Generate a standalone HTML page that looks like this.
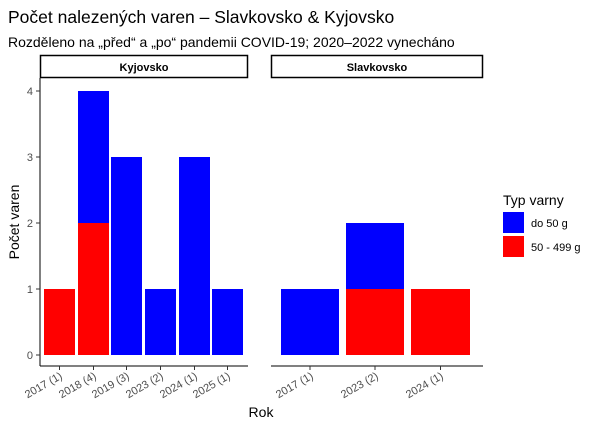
<!DOCTYPE html>
<html><head><meta charset="utf-8"><style>
body{margin:0;background:#fff;}
text{font-family:"Liberation Sans",Arial,sans-serif;}
</style></head><body>
<svg width="600" height="430" viewBox="0 0 600 430" xmlns="http://www.w3.org/2000/svg">
<rect width="600" height="430" fill="#fff"/>
<text x="8" y="23" font-size="17.5" fill="#000">Počet nalezených varen – Slavkovsko &amp; Kyjovsko</text>
<text x="8" y="47" font-size="14" fill="#000">Rozděleno na „před“ a „po“ pandemii COVID-19; 2020–2022 vynecháno</text>
<!-- strips -->
<rect x="40.5" y="55.5" width="207" height="22" fill="#fff" stroke="#000" stroke-width="1.5"/>
<text x="144" y="71" font-size="11" font-weight="bold" text-anchor="middle">Kyjovsko</text>
<rect x="271.5" y="55.5" width="211" height="22" fill="#fff" stroke="#000" stroke-width="1.5"/>
<text x="377" y="71" font-size="11" font-weight="bold" text-anchor="middle">Slavkovsko</text>
<!-- axes -->
<line x1="40" y1="78" x2="40" y2="366" stroke="#000" stroke-width="1"/>
<line x1="40" y1="366" x2="248" y2="366" stroke="#000" stroke-width="1"/>
<line x1="271" y1="366" x2="483" y2="366" stroke="#000" stroke-width="1"/>
<g font-size="11" fill="#4d4d4d" text-anchor="end">
<text x="33" y="359">0</text><text x="33" y="293">1</text><text x="33" y="227">2</text><text x="33" y="161">3</text><text x="33" y="95">4</text>
</g>
<g stroke="#333"><line x1="36" x2="40" y1="355" y2="355"/><line x1="36" x2="40" y1="289" y2="289"/><line x1="36" x2="40" y1="223" y2="223"/><line x1="36" x2="40" y1="157" y2="157"/><line x1="36" x2="40" y1="91" y2="91"/></g>
<!-- Kyjovsko bars -->
<rect x="44" y="289" width="31" height="66" fill="#f00"/>
<rect x="78" y="223" width="31" height="132" fill="#f00"/>
<rect x="78" y="91" width="31" height="132" fill="#00f"/>
<rect x="111" y="157" width="31" height="198" fill="#00f"/>
<rect x="145" y="289" width="31" height="66" fill="#00f"/>
<rect x="179" y="157" width="31" height="198" fill="#00f"/>
<rect x="212" y="289" width="31" height="66" fill="#00f"/>
<!-- Slavkovsko -->
<rect x="281" y="289" width="58" height="66" fill="#00f"/>
<rect x="346" y="289" width="58" height="66" fill="#f00"/>
<rect x="346" y="223" width="58" height="66" fill="#00f"/>
<rect x="411" y="289" width="59" height="66" fill="#f00"/>
<!-- x ticks -->
<g stroke="#333">
<line x1="59.5" x2="59.5" y1="366" y2="370"/><line x1="93.5" x2="93.5" y1="366" y2="370"/><line x1="126.5" x2="126.5" y1="366" y2="370"/><line x1="160.5" x2="160.5" y1="366" y2="370"/><line x1="194.5" x2="194.5" y1="366" y2="370"/><line x1="227.5" x2="227.5" y1="366" y2="370"/>
<line x1="310" x2="310" y1="366" y2="370"/><line x1="375" x2="375" y1="366" y2="370"/><line x1="440.5" x2="440.5" y1="366" y2="370"/>
</g>
<g font-size="11" fill="#4d4d4d" text-anchor="end">
<text transform="translate(63,378) rotate(-30)">2017 (1)</text>
<text transform="translate(97,378) rotate(-30)">2018 (4)</text>
<text transform="translate(130,378) rotate(-30)">2019 (3)</text>
<text transform="translate(164,378) rotate(-30)">2023 (2)</text>
<text transform="translate(198,378) rotate(-30)">2024 (1)</text>
<text transform="translate(231,378) rotate(-30)">2025 (1)</text>
<text transform="translate(314,378) rotate(-30)">2017 (1)</text>
<text transform="translate(379,378) rotate(-30)">2023 (2)</text>
<text transform="translate(444,378) rotate(-30)">2024 (1)</text>
</g>
<text x="261" y="417" font-size="14" text-anchor="middle">Rok</text>
<text transform="translate(19,222) rotate(-90)" font-size="14" text-anchor="middle">Počet varen</text>
<!-- legend -->
<text x="503" y="205" font-size="14">Typ varny</text>
<rect x="503" y="212" width="21" height="21" fill="#00f"/>
<rect x="503" y="236" width="21" height="21" fill="#f00"/>
<text x="531" y="227" font-size="11">do 50 g</text>
<text x="531" y="251" font-size="11">50 - 499 g</text>
</svg>
</body></html>
